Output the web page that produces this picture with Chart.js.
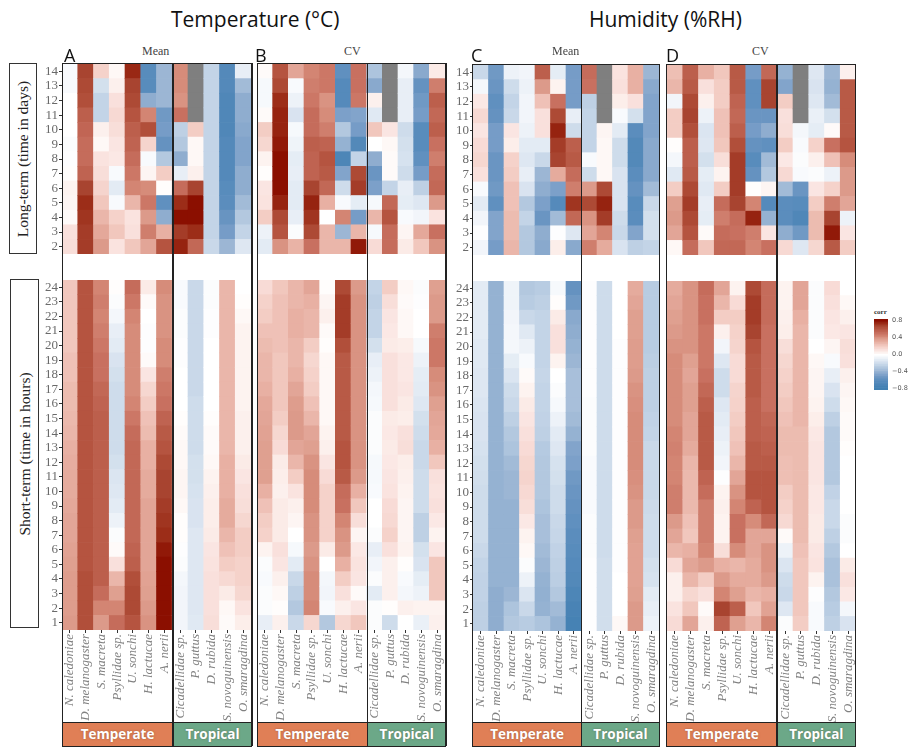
<!DOCTYPE html>
<html lang="en">
<head>
<meta charset="UTF-8">
<title>Temperature and humidity correlations</title>
<script src="https://cdn.jsdelivr.net/npm/chart.js@4"></script>
<style>
  body { margin: 0; background: #fff; width: 909px; height: 748px; overflow: hidden; position: relative; }
  canvas { position: absolute; }
  .t { position: absolute; white-space: nowrap; line-height: 1; }
  .head { font-family: "Open Sans", sans-serif; font-size: 21px; color: #111; }
  .letter { font-family: "Open Sans", sans-serif; font-size: 18px; color: #111; }
  .sub { font-family: "Liberation Serif", serif; font-size: 12px; color: #444; }
  .side { position: absolute; border: 1px solid #333; box-sizing: border-box; background: #fff; }
  .side span { position: absolute; left: 50%; top: 50%; transform: translate(-50%, -50%) rotate(-90deg);
    white-space: nowrap; font-family: "Liberation Serif", serif; font-size: 15.5px; color: #222; }
  .line { position: absolute; background: #222; }
  .band { position: absolute; box-sizing: border-box; color: #fff; font-family: "Open Sans", sans-serif; font-weight: 700;
    font-size: 13.5px; text-align: center; line-height: 24px; text-shadow: 0 0 2px rgba(90,60,40,.5); }
</style>
</head>
<body>
<div class="t head" style="left:171px;top:9px">Temperature (°C)</div>
<div class="t head" style="left:589px;top:9px">Humidity (%RH)</div>
<div class="side" style="left:9px;top:63px;width:28px;height:191px"><span>Long-term (time in days)</span></div>
<div class="side" style="left:10px;top:279px;width:29px;height:349px"><span>Short-term (time in hours)</span></div>
<div class="t" id="corrTitle" style="left:874px;top:308px;font:bold 7px 'Liberation Serif',serif;color:#333">corr</div>

<script>
const species = ['N. caledoniae', 'D. melanogaster', 'S. macreta', 'Psyllidae sp.', 'U. sonchi', 'H. lactucae', 'A. nerii',
  'Cicadellidae sp.', 'P. guttus', 'D. rubida', 'S. novoguinensis', 'O. smaragdina'];
const daysRows = [14, 13, 12, 11, 10, 9, 8, 7, 6, 5, 4, 3, 2];
const hoursRows = [24, 23, 22, 21, 20, 19, 18, 17, 16, 15, 14, 13, 12, 11, 10, 9, 8, 7, 6, 5, 4, 3, 2, 1];
const corrSteps = [-84, -80, -76, -72, -68, -64, -60, -56, -52, -48, -44, -40, -36, -32, -28, -24, -20, -16, -12, -8, -4, 0,
  4, 8, 12, 16, 20, 24, 28, 32, 36, 40, 44, 48, 52, 56, 60, 64, 68, 72, 76, 80, 84];
const corrTicks = [80, 40, 0, -40, -80];
const corrTickLabels = ['0.8', '0.4', '0.0', '\u22120.4', '\u22120.8'];

// long-term values are corr x 100, one line per day row (14 down to 2), null = no data
const tempMeanLong = [
  [-3, 68, 18, 3, 75, -62, -38, 42, null, -24, -65, -10],
  [-3, 66, -18, 6, 68, -62, -38, 42, null, -24, -65, -36],
  [0, 64, -24, 12, 66, -42, -38, 40, null, -24, -68, -42],
  [0, 58, -24, 15, 62, 44, -52, 50, null, -24, -68, -42],
  [0, 55, 6, 13, 58, 64, -50, -26, 20, -24, -68, -44],
  [-2, 52, 3, 10, 56, 17, -56, -30, 3, -24, -65, -46],
  [-1, 52, 11, 9, 52, -3, -30, -42, 3, -24, -65, -46],
  [1, 56, 13, -3, 48, 4, 20, -10, 6, -24, -65, -42],
  [5, 68, 17, -12, 44, 42, 1, 52, 68, -24, -62, -42],
  [4, 74, 22, -3, 28, 48, -58, 74, 80, -24, -60, -36],
  [2, 72, 28, 18, 11, 38, -42, 80, 84, -24, -55, -30],
  [12, 70, 33, 22, 12, 46, 30, 70, 74, -24, -50, -24],
  [13, 70, 38, 11, 22, 34, 62, 76, 54, -22, -38, -14]
];
const tempCvLong = [
  [2, 62, 34, 44, 48, -58, 50, -32, null, -5, -44, 8],
  [-4, 66, -3, 46, 48, -64, 50, -44, null, -10, -56, 46],
  [-4, 74, -8, 48, 40, -64, 48, 6, null, -10, -52, 58],
  [2, 76, -16, 52, 42, -48, -46, -13, null, -10, -50, 54],
  [20, 76, -4, 52, 46, -30, -50, 22, 10, -20, -62, 58],
  [16, 78, -7, 58, 56, -40, -66, 0, 3, -18, -62, 50],
  [5, 80, -11, 56, 62, -70, -24, -42, 2, -17, -58, 46],
  [1, 80, -10, 56, 60, -46, 66, -54, 2, -20, -50, 52],
  [10, 80, -12, 68, 54, -20, 70, -48, -24, -10, -26, 54],
  [11, 76, -12, 76, 30, -3, -11, -4, 54, -11, -14, 38],
  [20, 66, -10, 72, 0, 44, -50, 28, 62, -3, -6, 11],
  [-8, 62, -2, 66, 28, -38, 28, -4, 52, 4, 33, 50],
  [-12, 40, 29, 50, 28, 28, 78, 14, 52, 8, 22, 40]
];
const humMeanLong = [
  [-22, -52, -8, -6, 58, -11, -50, 52, null, 11, 30, -38],
  [-5, -54, -20, -8, 38, 5, -50, 50, null, 12, 30, -44],
  [9, -58, -24, -6, 24, 50, -50, -26, null, 7, 12, -46],
  [15, -56, -22, -6, 12, 66, -10, -24, null, -3, -18, -46],
  [10, -50, 10, -8, 12, 76, -20, -24, 4, -12, -60, -46],
  [14, -50, 7, -12, -12, 70, 58, -24, 3, -20, -66, -44],
  [16, -54, 18, -14, -22, 68, 60, -3, 3, -20, -66, -44],
  [12, -54, 20, -10, -38, 32, 52, -20, 3, -16, -60, -44],
  [-3, -52, 24, -16, -42, -48, 46, 38, 66, -16, -56, -36],
  [-12, -58, 24, -30, -48, -64, 72, 66, 76, -16, -62, -22],
  [-6, -46, 26, -24, -54, -36, 54, 40, 70, -20, -60, -18],
  [-1, -46, 26, -30, -42, -1, -14, 34, 44, -22, -46, -18],
  [-6, -50, 28, -30, -44, 7, -44, 46, 32, -16, -26, -24]
];
const humCvLong = [
  [25, 58, 30, 22, 60, -50, 54, -40, null, -14, -38, 6],
  [28, 60, 12, 20, 60, -58, 68, -46, null, -16, -40, 60],
  [-6, 66, 6, 20, 56, -58, 68, 20, null, -14, -36, 60],
  [20, 68, -8, 24, 54, -54, -54, 12, null, -9, -18, 60],
  [20, 64, -15, 24, 58, -50, -42, 13, -5, -11, 2, 60],
  [1, 58, -14, 22, 64, -56, -58, 20, -3, 18, 50, 62],
  [-5, 58, -18, 13, 70, -62, -36, 9, -2, 6, 24, 42],
  [-13, 60, -11, 5, 70, -56, -30, 15, -3, -2, -8, 38],
  [20, 66, -13, 20, 70, 1, 4, -36, -54, 10, 18, 38],
  [36, 70, -10, 52, 68, 44, -64, -60, -62, 20, 46, 34],
  [38, 66, -11, 46, 52, 76, -40, -60, -68, 26, 68, -8],
  [34, 62, 2, 52, 50, 46, 10, -42, -52, 26, 78, 10],
  [3, 52, 22, 54, 54, 44, 50, 15, -14, 16, 60, 20]
];

// short-term values are corr x 100, one line per species, hours 24 down to 1
const tempMeanShort = [
  [22, 22, 22, 22, 22, 24, 24, 26, 26, 27, 28, 30, 31, 32, 32, 33, 34, 34, 35, 36, 37, 37, 37, 38],
  [62, 62, 62, 62, 62, 62, 62, 62, 62, 62, 62, 62, 62, 62, 62, 62, 62, 62, 62, 62, 64, 64, 64, 64],
  [44, 46, 44, 46, 48, 50, 50, 54, 56, 58, 58, 58, 58, 58, 58, 58, 58, 58, 58, 58, 58, 52, 44, 38],
  [1, -2, -5, -10, -12, -16, -18, -20, -20, -20, -20, -20, -18, -15, -14, -12, -8, -2, 2, 12, 28, 36, 44, 52],
  [52, 48, 44, 42, 42, 42, 42, 42, 44, 48, 52, 54, 54, 54, 54, 54, 54, 54, 56, 58, 64, 66, 66, 62],
  [8, 2, 0, -1, -1, 2, 10, 16, 20, 24, 26, 30, 30, 32, 32, 34, 34, 34, 34, 34, 35, 36, 38, 40],
  [42, 40, 40, 40, 42, 42, 46, 48, 50, 56, 60, 62, 66, 68, 68, 70, 72, 74, 78, 82, 84, 82, 82, 84],
  [-3, -3, -2, -2, -1, -1, 0, 0, 0, 1, 2, 3, 3, 4, 4, 3, 1, 1, -1, -2, -5, -6, -6, -6],
  [-22, -22, -22, -22, -22, -22, -22, -22, -20, -20, -20, -20, -18, -18, -17, -16, -16, -14, -14, -14, -14, -14, -14, -13],
  [-2, -2, -1, -1, 0, 0, 0, 0, 0, 1, 2, 2, 3, 5, 6, 7, 7, 8, 10, 11, 12, 12, 12, 13],
  [28, 28, 28, 28, 28, 28, 28, 28, 28, 28, 28, 28, 30, 30, 30, 32, 32, 28, 24, 20, 15, 8, 3, 2],
  [0, 1, 3, 5, 5, 5, 5, 5, 5, 6, 6, 6, 8, 10, 12, 13, 16, 20, 20, 18, 18, 16, 11, 7]
];
const tempCvShort = [
  [14, 18, 20, 24, 26, 28, 28, 30, 33, 34, 35, 36, 36, 36, 30, 24, 20, 18, 5, -2, -3, -2, -2, -10],
  [22, 24, 24, 24, 24, 22, 22, 22, 22, 20, 16, 14, 8, 7, 6, 8, 8, 8, 12, 10, 6, 3, 1, 6],
  [28, 28, 30, 30, 28, 28, 30, 34, 37, 38, 38, 34, 28, 20, 11, 6, 4, 0, -4, -12, -22, -26, -30, -22],
  [34, 30, 28, 28, 20, 16, 18, 20, 24, 28, 34, 36, 40, 42, 42, 42, 40, 40, 38, 40, 42, 42, 44, 16],
  [1, 4, 6, 2, 1, 3, 3, 3, 3, 3, 5, 6, 10, 14, 18, 18, 18, 18, 8, 0, -5, -6, -3, -30],
  [66, 70, 70, 70, 64, 60, 60, 60, 60, 60, 60, 62, 62, 60, 52, 50, 44, 40, 38, 30, 20, 12, 6, 16],
  [38, 40, 40, 40, 40, 40, 40, 40, 40, 40, 40, 40, 40, 38, 30, 22, 13, 4, 9, 11, 10, 2, 10, 22],
  [-24, -26, -24, -24, -18, -10, -8, -5, -4, -2, -2, -2, -4, -4, -3, 0, 0, -2, -10, -6, -2, -12, -2, -2],
  [20, 13, 10, 9, 8, 12, 12, 12, 12, 8, 9, 8, 9, 10, 11, 14, 15, 18, 12, 6, 6, 6, 1, -20],
  [3, 2, 3, 3, 7, 9, 9, 10, 8, 7, 12, 13, 7, 6, 5, 4, 4, 4, 5, 1, -3, -5, 6, 0],
  [-2, -1, 0, 0, -4, -8, -11, -12, -14, -18, -20, -22, -22, -20, -20, -20, -26, -26, -18, -16, -11, -8, 5, -9],
  [36, 38, 38, 46, 48, 48, 42, 40, 36, 34, 33, 30, 22, 12, 11, 12, 9, 5, 10, 22, 22, 22, 5, 6]
];
const humMeanShort = [
  [-12, -12, -12, -12, -13, -13, -14, -14, -15, -16, -16, -17, -18, -19, -20, -20, -20, -20, -22, -24, -25, -25, -26, -26],
  [-40, -40, -40, -40, -40, -40, -40, -40, -40, -40, -40, -40, -40, -40, -40, -40, -40, -40, -40, -40, -40, -42, -42, -42],
  [-7, -7, -6, -5, -5, -11, -15, -20, -22, -26, -30, -32, -36, -38, -38, -40, -40, -40, -40, -40, -40, -38, -32, -30],
  [-30, -28, -22, -13, -8, -3, 2, 5, 8, 10, 12, 14, 16, 17, 15, 13, 9, 5, 3, -2, -8, -15, -22, -28],
  [-28, -26, -24, -24, -24, -24, -23, -24, -24, -25, -26, -29, -30, -30, -30, -32, -34, -34, -36, -38, -40, -41, -40, -32],
  [-4, 1, 8, 12, 12, 5, 0, -2, -4, -8, -12, -14, -17, -18, -20, -20, -22, -23, -25, -26, -27, -30, -36, -40],
  [-56, -52, -44, -42, -40, -38, -34, -34, -34, -36, -40, -46, -48, -52, -54, -56, -58, -60, -62, -64, -66, -70, -73, -75],
  [-1, -1, -1, -1, -1, -1, -1, -1, -2, -2, -2, -2, -3, -3, -3, -3, -2, -2, -2, -1, -1, -1, -1, -1],
  [-20, -20, -20, -20, -20, -20, -20, -20, -20, -20, -20, -20, -20, -20, -20, -20, -20, -20, -20, -19, -19, -19, -19, -19],
  [0, 0, 0, 0, -1, -1, -1, -1, -1, -1, -1, -1, -1, -1, -1, -1, -1, -1, -1, -1, 0, 0, 0, 3],
  [32, 34, 36, 36, 37, 37, 38, 40, 41, 42, 42, 42, 42, 41, 40, 38, 38, 36, 35, 35, 35, 36, 38, 38],
  [-28, -28, -28, -28, -28, -27, -26, -26, -26, -25, -24, -22, -22, -22, -22, -21, -20, -20, -20, -18, -17, -12, -10, -8]
];
const humCvShort = [
  [32, 34, 36, 38, 40, 42, 42, 42, 42, 42, 44, 45, 44, 44, 46, 46, 38, 34, 28, 14, 6, 6, 11, 14],
  [40, 40, 40, 40, 40, 36, 34, 36, 36, 34, 34, 32, 28, 27, 27, 27, 24, 22, 30, 34, 28, 16, 22, 34],
  [52, 50, 50, 48, 48, 48, 50, 54, 58, 60, 60, 60, 60, 56, 52, 46, 46, 46, 44, 38, 20, 12, 2, 6],
  [34, 28, 20, 6, -6, -14, -20, -20, -14, -12, -10, -8, -6, -1, 5, 6, 5, 5, 13, 30, 38, 44, 68, 56],
  [5, 14, 20, 18, 17, 14, 14, 17, 18, 20, 22, 24, 28, 34, 40, 44, 50, 50, 42, 28, 32, 36, 58, 36],
  [66, 70, 70, 68, 62, 60, 60, 60, 58, 58, 58, 60, 60, 62, 62, 56, 42, 34, 34, 32, 32, 28, 22, 28],
  [52, 52, 52, 50, 50, 50, 50, 50, 50, 54, 56, 58, 60, 62, 62, 62, 54, 34, 40, 40, 38, 30, 35, 44],
  [5, 5, 6, 7, 13, 16, 18, 20, 22, 24, 26, 26, 25, 25, 20, 18, 15, 2, -8, -15, -20, -22, -14, -2],
  [34, 34, 30, 28, 28, 28, 28, 28, 28, 28, 26, 26, 26, 26, 26, 26, 26, 26, 24, 22, 22, 22, 22, 20],
  [-2, -2, -2, -2, 0, 3, 4, 4, 5, 7, 9, 10, 10, 10, 9, 9, 8, 8, 10, 11, 5, -1, -3, -3],
  [14, 12, 10, 9, 4, -3, -10, -16, -20, -26, -30, -30, -30, -30, -25, -22, -22, -26, -30, -33, -33, -30, -28, -26],
  [0, 3, 6, 10, 13, 12, 6, 4, 3, 2, 2, 1, 0, 0, 0, 0, -2, -2, 0, 8, 12, 9, -5, -16]
];

// colour ramp
const ramp = [[-80, '#4280b3'], [-75, '#4682b4'], [-60, '#5b8dbd'], [-54, '#6a95c2'], [-48, '#7ca0c9'], [-43, '#8cabce'],
  [-36, '#a2bbd7'], [-28, '#b8cce2'], [-22, '#c9d8e9'], [-12, '#e3ebf4'], [-5, '#f4f7fb'], [0, '#ffffff'], [5, '#fdf3f0'],
  [12, '#f9e0dc'], [20, '#f3cdc4'], [30, '#e8b0a3'], [38, '#dc9a8a'], [43, '#d58876'], [50, '#c87060'], [58, '#bc5f4c'],
  [64, '#b14f3a'], [68, '#a84430'], [74, '#9c2d18'], [80, '#8b0f00']];

function hexRgb(h) { return [1, 3, 5].map(i => parseInt(h.substr(i, 2), 16)); }

function corrColor(v) {
  if (v === null) return '#7f7f7f';
  if (v <= ramp[0][0]) return ramp[0][1];
  for (let i = 1; i < ramp.length; i++) {
    if (v <= ramp[i][0]) {
      const t = (v - ramp[i - 1][0]) / (ramp[i][0] - ramp[i - 1][0]);
      const a = hexRgb(ramp[i - 1][1]), b = hexRgb(ramp[i][1]);
      return 'rgb(' + a.map((c, k) => Math.round(c + (b[k] - c) * t)).join(',') + ')';
    }
  }
  return ramp[ramp.length - 1][1];
}

function addCanvas(left, top, width, height) {
  const c = document.createElement('canvas');
  c.width = width; c.height = height;
  c.style.left = left + 'px'; c.style.top = top + 'px';
  document.body.appendChild(c);
  return c;
}

function noPadding(scale) {
  scale.paddingLeft = scale.paddingRight = scale.paddingTop = scale.paddingBottom = 0;
}

// one heatmap: floating bars, one per cell, on a category x and a linear time y
function heatmap(opts) {
  const yW = opts.showY ? 32 : 0;
  const xH = opts.showX ? opts.labelRoom : 0;
  const canvas = addCanvas(opts.left - yW, opts.top, opts.width + yW, opts.height + xH);
  const cells = [], colors = [];
  species.forEach((name, c) => {
    opts.rows.forEach((row, r) => {
      const v = opts.value(c, r);
      cells.push({ x: name, y: [row - 0.5, row + 0.5] });
      colors.push(corrColor(v));
    });
  });
  new Chart(canvas, {
    type: 'bar',
    data: {
      labels: species,
      datasets: [{ data: cells, backgroundColor: colors, borderWidth: 0, barPercentage: 1, categoryPercentage: 1 }]
    },
    options: {
      responsive: false,
      animation: false,
      layout: { padding: 0 },
      plugins: { legend: { display: false }, tooltip: { enabled: false } },
      scales: {
        x: {
          display: opts.showX,
          grid: { offset: false, drawOnChartArea: false, tickLength: 3, tickColor: '#333' },
          border: { display: false },
          ticks: {
            autoSkip: false, minRotation: 90, maxRotation: 90, padding: 1, color: '#808080',
            font: { family: '"Liberation Serif", serif', style: 'italic', size: 13 }
          },
          afterFit(s) { s.height = xH; noPadding(s); }
        },
        y: {
          display: opts.showY,
          min: opts.rows[opts.rows.length - 1] - 0.5,
          max: opts.rows[0] + 0.5,
          grid: { drawOnChartArea: false, tickLength: 3, tickColor: '#333' },
          border: { display: false },
          ticks: {
            padding: 1, color: '#6a6a6a', autoSkip: false,
            font: { family: '"Liberation Serif", serif', size: 13 },
            callback: v => v
          },
          afterBuildTicks(s) { s.ticks = opts.rows.map(v => ({ value: v })); },
          afterFit(s) { s.width = yW; noPadding(s); }
        }
      }
    }
  });
}

// frame of one panel plus its Temperate / Tropical band
function frame(p) {
  const bandTop = 722, bandBottom = 746, top = p.longTop;
  const line = (l, t, w, h) => {
    const d = document.createElement('div');
    d.className = 'line';
    d.style.cssText = `left:${l}px;top:${t}px;width:${w}px;height:${h}px`;
    document.body.appendChild(d);
  };
  const band = (l, w, text, color) => {
    const d = document.createElement('div');
    d.className = 'band';
    d.textContent = text;
    d.style.cssText = `left:${l}px;top:${bandTop}px;width:${w}px;height:${bandBottom - bandTop}px;background:${color}`;
    document.body.appendChild(d);
  };
  const mid = p.left + p.width * 7 / 12;
  band(p.left, mid - p.left, 'Temperate', '#e07f56');
  band(mid, p.left + p.width - mid, 'Tropical', '#6ca888');
  line(p.left - 0.5, top - 1, p.width + 1, 1);
  line(p.left - 0.5, bandTop - 0.5, p.width + 1, 1);
  line(p.left - 0.5, bandBottom - 0.5, p.width + 1, 1.2);
  line(p.left - 0.7, top - 1, 1.3, bandBottom - top + 1);
  line(mid - 0.6, top - 1, 1.3, bandBottom - top + 1);
  line(p.left + p.width - 0.6, top - 1, 1.3, bandBottom - top + 1);
}

function label(cls, text, left, top) {
  const d = document.createElement('div');
  d.className = 't ' + cls;
  d.textContent = text;
  d.style.left = left + 'px';
  d.style.top = top + 'px';
  document.body.appendChild(d);
}

const panels = [
  { left: 62.3, width: 189.7, longTop: 64, shortTop: 280, showY: true, long: tempMeanLong, short: tempMeanShort, letter: 'A', letterX: 64, sub: 'Mean', subX: 142 },
  { left: 257.4, width: 188.6, longTop: 64, shortTop: 280, showY: false, long: tempCvLong, short: tempCvShort, letter: 'B', letterX: 255, sub: 'CV', subX: 344 },
  { left: 472.7, width: 186.6, longTop: 65, shortTop: 281, showY: true, long: humMeanLong, short: humMeanShort, letter: 'C', letterX: 471, sub: 'Mean', subX: 552 },
  { left: 666.7, width: 189, longTop: 65, shortTop: 281, showY: false, long: humCvLong, short: humCvShort, letter: 'D', letterX: 666, sub: 'CV', subX: 752 }
];

panels.forEach(p => {
  heatmap({
    left: p.left, top: p.longTop, width: p.width, height: 190, rows: daysRows,
    showY: p.showY, showX: false, value: (c, r) => p.long[r][c]
  });
  heatmap({
    left: p.left, top: p.shortTop, width: p.width, height: 350, rows: hoursRows,
    showY: p.showY, showX: true, labelRoom: 92, value: (c, r) => p.short[c][r]
  });
  frame(p);
  label('letter', p.letter, p.letterX, 46);
  label('sub', p.sub, p.subX, 45);
});

// colour bar legend
new Chart(addCanvas(874, 314, 35, 82), {
  type: 'bar',
  data: {
    labels: ['corr'],
    datasets: [{
      data: corrSteps.map(v => ({ x: 'corr', y: [v - 2, v + 2] })),
      backgroundColor: corrSteps.map(corrColor),
      borderWidth: 0, barPercentage: 1, categoryPercentage: 1
    }]
  },
  options: {
    responsive: false,
    animation: false,
    layout: { padding: { top: 5, bottom: 6 } },
    plugins: { legend: { display: false }, tooltip: { enabled: false } },
    scales: {
      x: { display: false },
      y: {
        position: 'right', min: -84, max: 84,
        grid: { drawOnChartArea: false, drawTicks: false },
        border: { display: false },
        ticks: {
          padding: 4, color: '#555', autoSkip: false,
          font: { family: '"DejaVu Sans", sans-serif', size: 6.5 },
          callback: v => corrTickLabels[corrTicks.indexOf(v)]
        },
        afterBuildTicks(s) { s.ticks = corrTicks.map(v => ({ value: v })); },
        afterFit(s) { s.width = 21; noPadding(s); }
      }
    }
  }
});
</script>
</body>
</html>
